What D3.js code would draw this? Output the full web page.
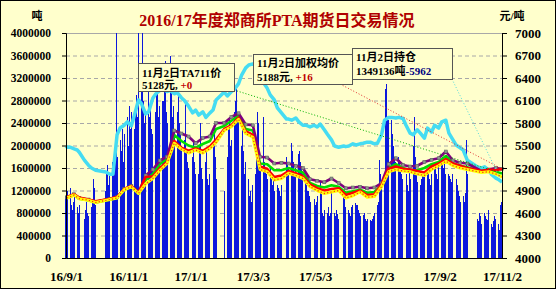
<!DOCTYPE html>
<html><head><meta charset="utf-8">
<script src="https://cdn.jsdelivr.net/npm/d3@7/dist/d3.min.js"></script>
<style>
body{margin:0;background:#fff}
svg{display:block}
text{font-family:"Liberation Serif","Noto Sans CJK SC",serif;font-weight:bold}
</style>
</head><body>
<svg id="chart" width="558" height="292"></svg>
<script>
// ---------- DATA ----------
const startDate = "2016-09-01", endDate = "2017-11-02";
const holidays = ["2016-09-15","2016-09-16","2016-10-03","2016-10-04","2016-10-05","2016-10-06","2016-10-07",
  "2017-01-02","2017-01-27","2017-01-30","2017-01-31","2017-02-01","2017-02-02","2017-04-03","2017-04-04",
  "2017-05-01","2017-05-29","2017-05-30","2017-10-02","2017-10-03","2017-10-04","2017-10-05","2017-10-06"];
const tickDates = ["2016-09-01","2016-11-01","2017-01-01","2017-03-03","2017-05-03","2017-07-03","2017-09-02","2017-11-02"];
const tickLabels = ["16/9/1","16/11/1","17/1/1","17/3/3","17/5/3","17/7/3","17/9/2","17/11/2"];
const leftTicks = [0,400000,800000,1200000,1600000,2000000,2400000,2800000,3200000,3600000,4000000];
const rightTicks = [4000,4300,4600,4900,5200,5500,5800,6100,6400,6700,7000];

// daily volume per trading week (万吨)
const volumeByWeek = [
 [110,120],[125,95,85,100,110],[90,80,95],[70,85,100,80,75],[90,100,140,125,95],
 [120,150,165,130,145],[170,160,200,410,180],[210,190,230,170,220],[250,200,270,230,260],[230,260,290,250,420],
 [300,430,280,240,260],[330,250,280,230,220],[260,340,300,250,270],[280,330,350,260,240],[360,300,250,270,230],
 [260,300,240,220,200],[210,280,190,170,160],[180,210,170,150],[150,200,240,160,140],[170,190,140,130,150],
 [200,230,180,140],[120],[180,230,250,200,210],[260,280,300,260,250],[200,240,190,150,170],
 [140,110,120,100,130],[150,180,260,240,160],[250,170,160,150,140],[160,140,130,140,120],[130,125,120,110,130],
 [180,170,160],[205,190,170,150,160],[185,190,170,160,150],[140,130,120,110,100],[105,95,100,110],
 [135,120,80,75,85],[80,90,75,80,115],[80,75,85,78,70],[110,105,90],[85,80,75,90,95],
 [98,95,85,80,75],[77,80,70,65,70],[68,65,70,75,80],[95,100,175,150,135],[140,300,310,250,245],
 [245,220,200,180,170],[180,175,160,150,140],[150,130,120,160,140],[200,250,180,150,135],[130,140,150,145,155],
 [150,160,140,130,150],[160,170,150,140,165],[175,180,160,170,150],[150,145,140,135,150],[140,130,120,110,100],
 [110,100,115,210,150],[70,65,80,75,60],[80,75,70,68,85],[60,55,65,75,70],[60,50,95,100]
];
// open interest at first and last trading day of each week (万吨)
const openInterestByWeek = [
 [199,197],[197,194],[192,188],[174,165],[160,156],[153,149],[149,219],[231,236],[242,235],[254,281],
 [274,256],[260,284],[292,298],[300,296],[298,292],[294,285],[280,270],[258,263],[254,260],[250,258],
 [263,281],[295],[288,296],[300,310],[325,338],[343,345],[341,325],[313,302],[290,281],[267,258],
 [247,247],[245,249],[242,236],[236,233],[236,233],[238,228],[220,210],[199,197],[199,198],[199,203],
 [201,203],[204,206],[206,203],[204,219],[245,250],[250,249],[250,248],[236,222],[219,228],[222,213],
 [231,224],[236,231],[242,245],[222,210],[201,196],[192,174],[162,160],[162,156],[148,142],[139,134.9136]
];
// weekly closing prices (元/吨) at last trading day of each week
const purplePrice = [4810,4850,4800,4780,4750,4790,4810,4920,4960,4870,
 5100,5180,5300,5350,5700,5660,5620,5530,5600,5620,5800,5800,5880,5930,5780,5770,5350,5340,5260,5270,
 5260,5230,5200,5050,5030,5010,5060,5000,4930,4940,4950,4930,4940,5000,5250,5330,5240,5220,5230,5280,
 5310,5330,5420,5300,5270,5260,5160,5180,5200,5190];
const greenPrice = [4800,4840,4790,4770,4740,4780,4800,4910,4950,4860,
 5040,5120,5250,5330,5640,5560,5500,5470,5520,5560,5720,5760,5830,5900,5720,5700,5260,5250,5170,5170,
 5200,5170,5140,5000,4960,4940,4970,4950,4870,4890,4910,4870,4880,4970,5200,5250,5200,5170,5170,5200,
 5250,5280,5360,5260,5230,5210,5150,5160,5150,5128];
const redPrice = [4815,4850,4805,4780,4755,4790,4815,4920,4960,4870,
 5080,5090,5200,5280,5560,5470,5430,5460,5430,5490,5580,5720,5770,5870,5690,5640,5220,5190,5080,5100,
 5160,5130,5090,4980,4930,4900,4920,4930,4840,4870,4900,4840,4850,4980,5190,5220,5190,5180,5160,5140,
 5220,5260,5320,5260,5230,5200,5160,5180,5170,5188];
const yellowPrice = [4800,4840,4790,4770,4740,4780,4800,4910,4950,4860,
 4990,5060,5170,5260,5530,5450,5400,5440,5400,5460,5540,5700,5750,5850,5660,5610,5180,5150,5040,5060,
 5130,5100,5060,4950,4900,4860,4880,4900,4800,4830,4880,4810,4820,4950,5150,5180,5160,5150,5120,5100,
 5180,5230,5290,5230,5200,5180,5140,5150,5120,5080];

const titleText = "2016/17年度郑商所PTA期货日交易情况";
const notes = [
  {l1:"11月2日TA711价", l2a:"5128元, ", l2b:"+0", c:"#c00000"},
  {l1:"11月2日加权均价", l2a:"5188元, ", l2b:"+16", c:"#c00000"},
  {l1:"11月2日持仓", l2a:"1349136吨", l2b:"-5962", c:"#000080"}
];

// ---------- BUILD ----------
const parse = d3.timeParse("%Y-%m-%d"), fmt = d3.timeFormat("%Y-%m-%d");
const hol = new Set(holidays);
const days = d3.timeDay.range(parse(startDate), d3.timeDay.offset(parse(endDate),1))
  .filter(d => d.getDay()!==0 && d.getDay()!==6 && !hol.has(fmt(d)));
const weeks = d3.groups(days, d => +d3.timeMonday.floor(d)).map(g => g[1]);

const volData=[], oiData=[], priceDates=[];
weeks.forEach((wk,i)=>{
  wk.forEach((d,j)=>{ if(volumeByWeek[i] && volumeByWeek[i][j]!=null) volData.push({d, v:volumeByWeek[i][j]*10000}); });
  const o = openInterestByWeek[i]||[];
  if(wk.length===1 || o.length===1){ oiData.push({d:wk[wk.length-1], v:o[0]*10000}); }
  else { oiData.push({d:wk[0], v:o[0]*10000}); oiData.push({d:wk[wk.length-1], v:o[1]*10000}); }
  priceDates.push(wk[wk.length-1]);
});

const L=66,R=502,T=33,B=258;
const svg = d3.select("#chart");
svg.append("rect").attr("x",0.5).attr("y",0.5).attr("width",555).attr("height",288)
  .attr("fill","#ffffcc").attr("stroke","#000");

const x = d3.scaleTime().domain([parse(startDate),parse(endDate)]).range([L,R]);
const yL = d3.scaleLinear().domain([0,4000000]).range([B,T]).clamp(true);
const yR = d3.scaleLinear().domain([4000,7000]).range([B,T]);

// grid
svg.append("g").selectAll("line").data(leftTicks.slice(1)).join("line")
  .attr("x1",L).attr("x2",R).attr("y1",d=>yL(d)+0.5).attr("y2",d=>yL(d)+0.5)
  .attr("stroke","#a8a8a8").attr("stroke-width",1)
  .attr("stroke-dasharray",d=>d===4000000?null:"4,3");

// bars
const dayW = x(parse("2016-09-02"))-x(parse("2016-09-01"));
svg.append("g").selectAll("rect").data(volData).join("rect")
  .attr("x",d=>x(d.d)-dayW/2).attr("width",dayW)
  .attr("y",d=>yL(d.v)).attr("height",d=>B-yL(d.v))
  .attr("fill","#0c18dc").attr("shape-rendering","crispEdges");

// open interest
svg.append("path").datum(oiData)
  .attr("d",d3.line().x(d=>x(d.d)).y(d=>yL(d.v)))
  .attr("fill","none").attr("stroke","#45dcf2").attr("stroke-width",3.5).attr("stroke-linejoin","round");

function priceLine(vals,color,w){
  const pts = vals.map((v,i)=>({d:priceDates[i],v}));
  svg.append("path").datum(pts).attr("d",d3.line().x(d=>x(d.d)).y(d=>yR(d.v)))
    .attr("fill","none").attr("stroke",color).attr("stroke-width",w).attr("stroke-linejoin","round");
  return pts;
}
priceLine(greenPrice,"#00dd00",2.6);
const pp = priceLine(purplePrice,"#800080",2.6);
svg.append("g").selectAll("rect").data(pp).join("rect")
  .attr("x",d=>x(d.d)-1.5).attr("y",d=>yR(d.v)-1.5).attr("width",3).attr("height",3)
  .attr("fill","#909090").attr("stroke","#556655").attr("stroke-width",0.5);
priceLine(redPrice,"#ff0000",2.6);
const yp = priceLine(yellowPrice,"#ffff00",3);
svg.append("path").datum(yp).attr("d",d3.line().x(d=>x(d.d)).y(d=>yR(d.v)))
  .attr("fill","none").attr("stroke","#ff2020").attr("stroke-width",1.2).attr("stroke-dasharray","1.2,2.2");

// axes
const gl = svg.append("g").attr("transform",`translate(${L},0)`)
  .call(d3.axisLeft(yL).tickValues(leftTicks).tickSize(4).tickPadding(11).tickFormat(d3.format("d")));
const gr = svg.append("g").attr("transform",`translate(${R},0)`)
  .call(d3.axisRight(yR).tickValues(rightTicks).tickSize(5).tickPadding(8).tickFormat(d3.format("d")));
const gx = svg.append("g").attr("transform",`translate(0,${B})`)
  .call(d3.axisBottom(x).tickValues(tickDates.map(parse)).tickSize(0).tickPadding(14)
    .tickFormat((d,i)=>tickLabels[i]));
[gl,gr,gx].forEach(g=>{
  g.select(".domain").attr("stroke","#000").attr("stroke-width",1);
  g.selectAll(".tick line").attr("stroke","#000");
  g.selectAll("text").attr("fill","#000").style("font-family",'"Liberation Serif",serif').style("font-weight","bold");
});
gl.selectAll("text").style("font-size","11.5px");
gr.selectAll("text").style("font-size","13px");
gx.selectAll("text").style("font-size","13px");

// titles
svg.append("text").attr("x",277).attr("y",26).attr("text-anchor","middle")
  .attr("fill","#b00000").style("font-size","16px").text(titleText);
svg.append("text").attr("x",37).attr("y",20).attr("text-anchor","middle").style("font-size","11px").text("吨");
svg.append("text").attr("x",512).attr("y",20).attr("text-anchor","middle").style("font-size","11px").text("元/吨");

// leader lines
const lastD = priceDates[priceDates.length-1];
const leaders = [
  {x1:234,y1:90,x2:x(lastD),y2:yR(greenPrice[greenPrice.length-1]),c:"#00b000"},
  {x1:340,y1:84,x2:x(lastD),y2:yR(redPrice[redPrice.length-1]),c:"#e03030"},
  {x1:452,y1:79,x2:x(lastD),y2:yL(oiData[oiData.length-1].v),c:"#50dcdc"}
];
svg.append("g").selectAll("line").data(leaders).join("line")
  .attr("x1",d=>d.x1).attr("y1",d=>d.y1).attr("x2",d=>d.x2).attr("y2",d=>d.y2)
  .attr("stroke",d=>d.c).attr("stroke-width",1).attr("stroke-dasharray","1,2");

// note boxes
const boxes = [
  {x:138.5,y:63.5,w:96,h:28,b1:77,b2:89},
  {x:253.5,y:54.5,w:99,h:30,b1:67,b2:81},
  {x:352.5,y:48.5,w:100,h:31,b1:61,b2:75}
];
boxes.forEach((b,i)=>{
  const n = notes[i];
  svg.append("rect").attr("x",b.x).attr("y",b.y).attr("width",b.w).attr("height",b.h)
    .attr("fill","#ffffcc").attr("stroke","#555").attr("stroke-width",1);
  svg.append("text").attr("x",b.x+3.5).attr("y",b.b1).style("font-size","11px").text(n.l1);
  const t = svg.append("text").attr("x",b.x+3.5).attr("y",b.b2).style("font-size","11px");
  t.append("tspan").text(n.l2a);
  t.append("tspan").attr("fill",n.c).text(n.l2b);
});
</script>
</body></html>
